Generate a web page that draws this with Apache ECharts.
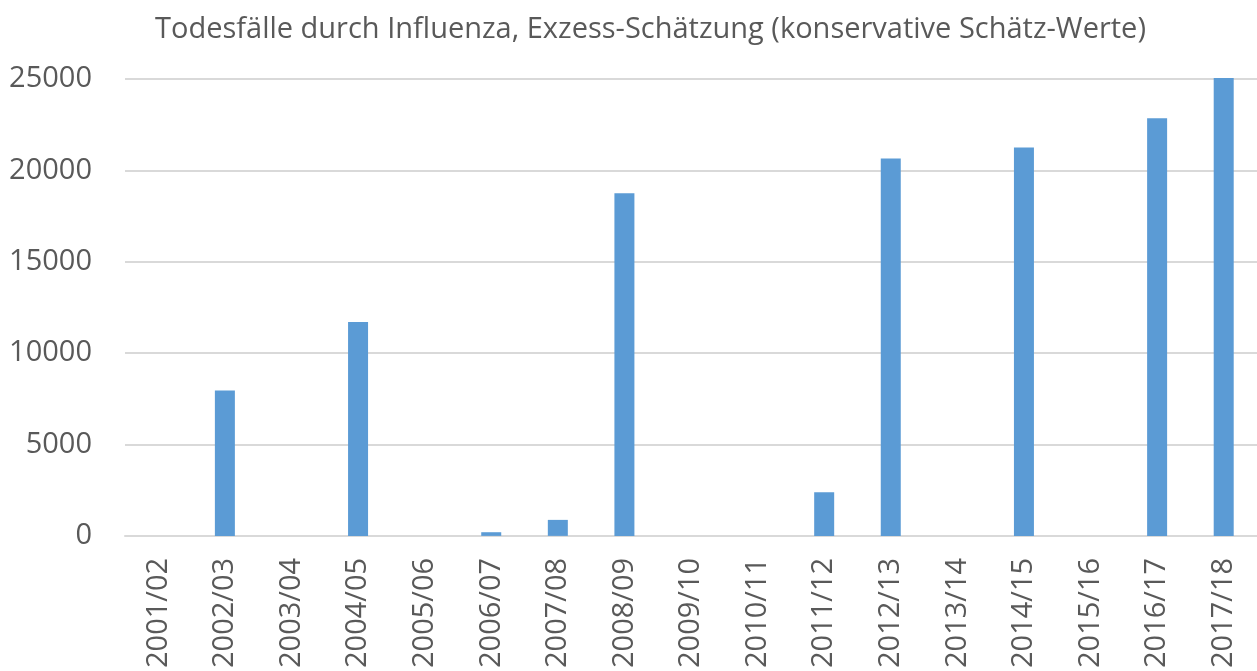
<!DOCTYPE html>
<html>
<head>
<meta charset="utf-8">
<script src="https://cdn.jsdelivr.net/npm/echarts@6/dist/echarts.min.js"></script>
<style>
  html, body { margin: 0; padding: 0; background: #fff; }
  #container { width: 1257px; height: 671px; }
</style>
</head>
<body>
<div id="container"></div>
<script>
var seasons = ['2001/02', '2002/03', '2003/04', '2004/05', '2005/06', '2006/07', '2007/08', '2008/09',
    '2009/10', '2010/11', '2011/12', '2012/13', '2013/14', '2014/15', '2015/16', '2016/17', '2017/18'];
var deaths = [0, 7950, 0, 11700, 0, 200, 875, 18750, 0, 0, 2390, 20650, 0, 21250, 0, 22850, 25050];
var yTicks = [0, 5000, 10000, 15000, 20000, 25000];

var dom = document.getElementById('container');
var myChart = echarts.init(dom);
var textColor = '#595959';
var font = '"Open Sans", sans-serif';

var option = {
    animation: false,
    title: {
        text: 'Todesfälle durch Influenza, Exzess-Schätzung (konservative Schätz-Werte)',
        left: 150,
        top: 10,
        textStyle: {
            color: textColor,
            fontSize: 29,
            fontWeight: 'normal',
            fontFamily: font
        }
    },
    grid: {
        left: 125,
        right: -5,
        top: 79,
        bottom: 135
    },
    xAxis: {
        type: 'category',
        data: seasons,
        axisTick: {show: false},
        axisLine: {show: true, lineStyle: {color: '#d9d9d9', width: 2}},
        axisLabel: {
            rotate: 90,
            interval: 0,
            margin: 22,
            color: textColor,
            fontSize: 29,
            fontFamily: font
        }
    },
    yAxis: {
        type: 'value',
        min: yTicks[0],
        max: yTicks[yTicks.length - 1],
        interval: 5000,
        axisTick: {show: false},
        axisLine: {show: false},
        splitLine: {lineStyle: {color: '#d9d9d9', width: 2}},
        axisLabel: {
            color: textColor,
            fontSize: 29,
            margin: 33,
            fontFamily: font,
            formatter: function (v) { return String(v); }
        }
    },
    series: [{
        type: 'bar',
        data: deaths,
        barWidth: 20,
        clip: false,
        itemStyle: {color: '#5b9bd5'}
    }]
};
myChart.setOption(option, true);
</script>
</body>
</html>
